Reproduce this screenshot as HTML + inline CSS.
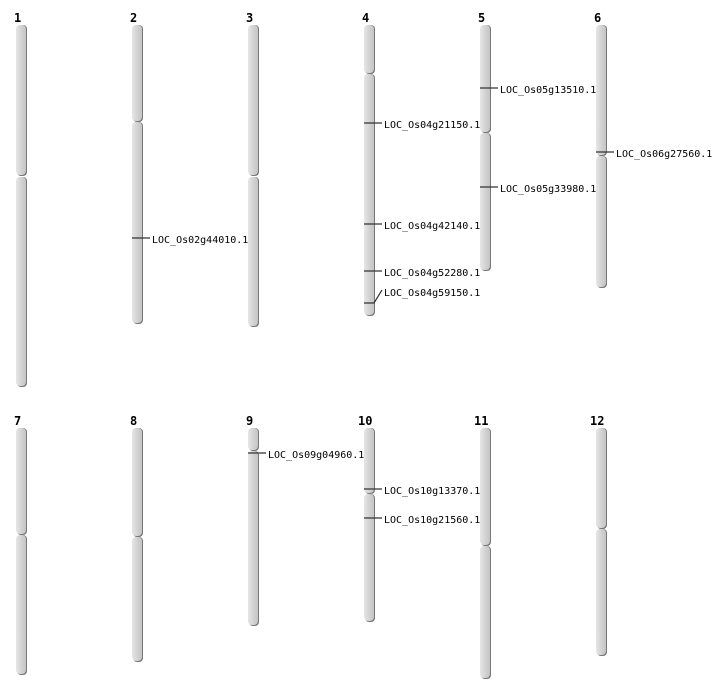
<!DOCTYPE html>
<html><head><meta charset="utf-8"><style>
html,body{margin:0;padding:0;background:#fff;}
svg{display:block;}
text{font-family:"DejaVu Sans Mono","Liberation Mono",monospace;font-size:10px;fill:#000;}
.n{font-family:"DejaVu Sans Mono","Liberation Mono",monospace;font-size:12px;font-weight:bold;}
.s{fill:#777;}
.a{fill:url(#g);}
.m{stroke:#333;stroke-width:1.2;fill:none;}
</style></head><body>
<svg width="712" height="700" viewBox="0 0 712 700" xmlns="http://www.w3.org/2000/svg">
<defs><linearGradient id="g" x1="0" x2="1" y1="0" y2="0">
<stop offset="0" stop-color="#e6e6e6"/><stop offset="0.5" stop-color="#d4d4d4"/><stop offset="1" stop-color="#c4c4c4"/></linearGradient>
<symbol id="dummy"></symbol></defs>
<!-- chromosome arms: shadow then body -->
<g>
<!-- 1 -->
<rect class="s" x="17" y="25" width="10" height="151" rx="4"/><rect class="a" x="16" y="25" width="10" height="150" rx="4"/>
<rect class="s" x="17" y="177" width="10" height="210" rx="4"/><rect class="a" x="16" y="177" width="10" height="209" rx="4"/>
<!-- 2 -->
<rect class="s" x="133" y="25" width="10" height="97" rx="4"/><rect class="a" x="132" y="25" width="10" height="96" rx="4"/>
<rect class="s" x="133" y="122" width="10" height="202" rx="4"/><rect class="a" x="132" y="122" width="10" height="201" rx="4"/>
<!-- 3 -->
<rect class="s" x="249" y="25" width="10" height="151" rx="4"/><rect class="a" x="248" y="25" width="10" height="150" rx="4"/>
<rect class="s" x="249" y="177" width="10" height="150" rx="4"/><rect class="a" x="248" y="177" width="10" height="149" rx="4"/>
<!-- 4 -->
<rect class="s" x="365" y="25" width="10" height="49" rx="4"/><rect class="a" x="364" y="25" width="10" height="48" rx="4"/>
<rect class="s" x="365" y="74" width="10" height="242" rx="4"/><rect class="a" x="364" y="74" width="10" height="241" rx="4"/>
<!-- 5 -->
<rect class="s" x="481" y="25" width="10" height="108" rx="4"/><rect class="a" x="480" y="25" width="10" height="107" rx="4"/>
<rect class="s" x="481" y="133" width="10" height="138" rx="4"/><rect class="a" x="480" y="133" width="10" height="137" rx="4"/>
<!-- 6 -->
<rect class="s" x="597" y="25" width="10" height="131" rx="4"/><rect class="a" x="596" y="25" width="10" height="130" rx="4"/>
<rect class="s" x="597" y="156" width="10" height="132" rx="4"/><rect class="a" x="596" y="156" width="10" height="131" rx="4"/>
<!-- 7 -->
<rect class="s" x="17" y="428" width="10" height="107" rx="4"/><rect class="a" x="16" y="428" width="10" height="106" rx="4"/>
<rect class="s" x="17" y="535" width="10" height="140" rx="4"/><rect class="a" x="16" y="535" width="10" height="139" rx="4"/>
<!-- 8 -->
<rect class="s" x="133" y="428" width="10" height="109" rx="4"/><rect class="a" x="132" y="428" width="10" height="108" rx="4"/>
<rect class="s" x="133" y="537" width="10" height="125" rx="4"/><rect class="a" x="132" y="537" width="10" height="124" rx="4"/>
<!-- 9 -->
<rect class="s" x="249" y="428" width="10" height="23" rx="4"/><rect class="a" x="248" y="428" width="10" height="22" rx="4"/>
<rect class="s" x="249" y="451" width="10" height="175" rx="4"/><rect class="a" x="248" y="451" width="10" height="174" rx="4"/>
<!-- 10 -->
<rect class="s" x="365" y="428" width="10" height="66" rx="4"/><rect class="a" x="364" y="428" width="10" height="65" rx="4"/>
<rect class="s" x="365" y="494" width="10" height="128" rx="4"/><rect class="a" x="364" y="494" width="10" height="127" rx="4"/>
<!-- 11 -->
<rect class="s" x="481" y="428" width="10" height="118" rx="4"/><rect class="a" x="480" y="428" width="10" height="117" rx="4"/>
<rect class="s" x="481" y="546" width="10" height="133" rx="4"/><rect class="a" x="480" y="546" width="10" height="132" rx="4"/>
<!-- 12 -->
<rect class="s" x="597" y="428" width="10" height="101" rx="4"/><rect class="a" x="596" y="428" width="10" height="100" rx="4"/>
<rect class="s" x="597" y="529" width="10" height="127" rx="4"/><rect class="a" x="596" y="529" width="10" height="126" rx="4"/>
</g>
<!-- numbers -->
<text class="n" x="14" y="22">1</text><text class="n" x="130" y="22">2</text><text class="n" x="246" y="22">3</text>
<text class="n" x="362" y="22">4</text><text class="n" x="478" y="22">5</text><text class="n" x="594" y="22">6</text>
<text class="n" x="14" y="425">7</text><text class="n" x="130" y="425">8</text><text class="n" x="246" y="425">9</text>
<text class="n" x="358" y="425">10</text><text class="n" x="474" y="425">11</text><text class="n" x="590" y="425">12</text>
<!-- markers -->
<path class="m" d="M132 238H150 M364 123H382 M364 224H382 M364 271H382 M364 303H374L382 290 M480 88H498 M480 187H498 M596 152H614 M248 453H266 M364 489H382 M364 518H382"/>
<text x="152" y="243">LOC_Os02g44010.1</text>
<text x="384" y="128">LOC_Os04g21150.1</text>
<text x="384" y="229">LOC_Os04g42140.1</text>
<text x="384" y="276">LOC_Os04g52280.1</text>
<text x="384" y="296">LOC_Os04g59150.1</text>
<text x="500" y="93">LOC_Os05g13510.1</text>
<text x="500" y="192">LOC_Os05g33980.1</text>
<text x="616" y="157">LOC_Os06g27560.1</text>
<text x="268" y="458">LOC_Os09g04960.1</text>
<text x="384" y="494">LOC_Os10g13370.1</text>
<text x="384" y="523">LOC_Os10g21560.1</text>
</svg>
</body></html>
